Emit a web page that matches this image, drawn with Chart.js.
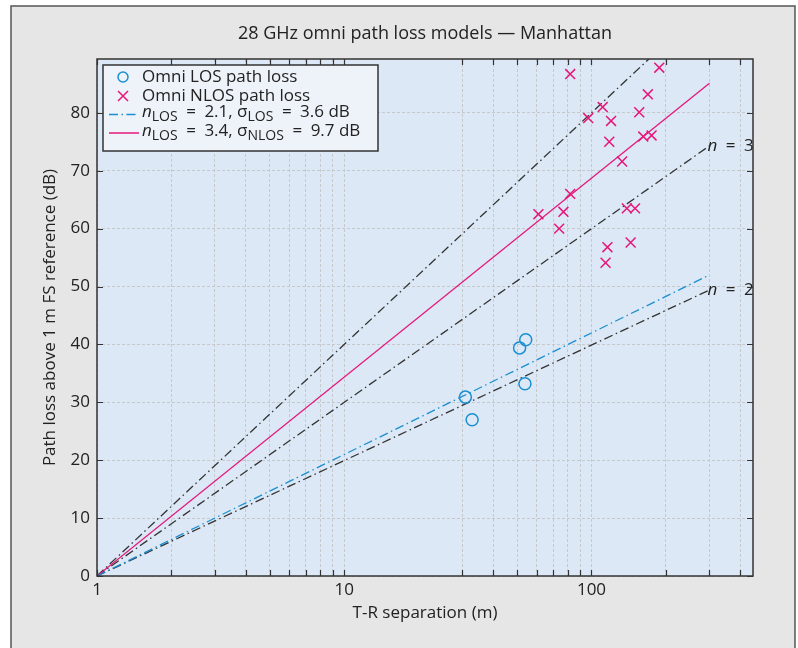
<!DOCTYPE html>
<html>
<head>
<meta charset="utf-8">
<script src="https://cdn.jsdelivr.net/npm/chart.js@4"></script>
<style>
  html, body { margin: 0; padding: 0; background: #fff; }
  #wrap { width: 798px; height: 648px; }
</style>
</head>
<body>
<div id="wrap"><canvas id="plChart" width="798" height="648"></canvas></div>
<script>
// measured points (T-R separation in m, path loss in dB)
var losDist = [54.2, 51.2, 53.8, 30.9, 32.9];
var losPL = [40.8, 39.4, 33.2, 30.9, 27.0];
var nlosDist = [82, 188, 169, 111, 156, 97, 120, 118, 162, 175, 133, 82, 61, 77, 74, 139, 150, 116, 144, 114];
var nlosPL = [86.7, 87.8, 83.2, 81.0, 80.1, 79.1, 78.6, 75.0, 75.9, 76.1, 71.6, 66.0, 62.5, 62.9, 60.0, 63.5, 63.5, 56.8, 57.6, 54.1];

// model lines, start and end
var lineDist = [1, 300];
var fitLos = [0, 52.0];
var fitNlos = [0, 85.1];
var refN2 = [0, 49.4];
var refN3 = [0, 74.3];
var refN4 = [0, 99.1];

// axis ticks
var xGrid = [1, 2, 3, 4, 5, 6, 7, 8, 9, 10, 30, 40, 50, 60, 70, 80, 90, 100, 200, 300, 400];
var xLabels = [1, 10, 100];
var yTicks = [0, 10, 20, 30, 40, 50, 60, 70, 80];

var FONT = "'Open Sans', 'DejaVu Sans', sans-serif";
var FS = 17;
var BLUE = "#1a8fd2";
var PINK = "#e5177b";
var DARK = "#333";
var dashDot = [9, 3.5, 1.5, 3.5];
var EQ = "\u2002=\u2002";

function pts(xs, ys) {
  return xs.map(function (x, i) { return { x: x, y: ys[i] }; });
}

function lineSet(label, ys, color, dash) {
  return {
    label: label,
    data: pts(lineDist, ys),
    showLine: true,
    borderColor: color,
    borderWidth: 1.3,
    borderDash: dash,
    pointRadius: 0,
    fill: false,
  };
}

function sub(ctx, x, y, parts) {
  // parts: [text, kind] kind: 'i' italic, 's' subscript, '' normal
  parts.forEach(function (p) {
    if (p[1] === "s") {
      ctx.font = "14px " + FONT;
      ctx.fillText(p[0], x, y + 5);
    } else if (p[1] === "i") {
      ctx.font = "italic " + FS + "px " + FONT;
      ctx.fillText(p[0], x, y);
    } else {
      ctx.font = FS + "px " + FONT;
      ctx.fillText(p[0], x, y);
    }
    x += ctx.measureText(p[0]).width;
  });
}

var decor = {
  id: "decor",
  beforeDraw: function (chart) {
    var ctx = chart.ctx, a = chart.chartArea;
    ctx.save();
    ctx.fillStyle = "#fff";
    ctx.fillRect(0, 0, chart.width, chart.height);
    ctx.fillStyle = "#e6e6e7";
    ctx.strokeStyle = "#555";
    ctx.lineWidth = 1.5;
    ctx.fillRect(11, 6, 784, 660);
    ctx.strokeRect(11, 6, 784, 660);
    ctx.fillStyle = "#dce8f5";
    ctx.fillRect(a.left, a.top, a.right - a.left, a.bottom - a.top);
    ctx.fillStyle = "#222";
    ctx.font = "18px " + FONT;
    ctx.textAlign = "center";
    ctx.textBaseline = "middle";
    ctx.fillText("28 GHz omni path loss models \u2014 Manhattan", (a.left + a.right) / 2, 34);
    ctx.restore();
  },
  afterDraw: function (chart) {
    var ctx = chart.ctx, a = chart.chartArea;
    var xs = chart.scales.x, ys = chart.scales.y;
    ctx.save();

    // n = 2 / n = 3 labels at the reference line ends
    ctx.beginPath();
    ctx.rect(a.left, a.top, a.right - a.left, a.bottom - a.top);
    ctx.clip();
    ctx.fillStyle = "#222";
    ctx.textBaseline = "middle";
    [[refN3, "3"], [refN2, "2"]].forEach(function (r) {
      var px = xs.getPixelForValue(lineDist[1]) - 2;
      var py = ys.getPixelForValue(r[0][1]);
      sub(ctx, px, py, [["n", "i"], [EQ + r[1], ""]]);
    });
    ctx.restore();

    ctx.save();
    // box + inward ticks
    ctx.strokeStyle = DARK;
    ctx.lineWidth = 1.5;
    ctx.strokeRect(a.left, a.top, a.right - a.left, a.bottom - a.top);
    ctx.lineWidth = 1.2;
    ctx.beginPath();
    xGrid.forEach(function (v) {
      var px = Math.round(xs.getPixelForValue(v)) + 0.5;
      ctx.moveTo(px, a.bottom); ctx.lineTo(px, a.bottom - 6);
      ctx.moveTo(px, a.top); ctx.lineTo(px, a.top + 6);
    });
    yTicks.forEach(function (v) {
      var py = Math.round(ys.getPixelForValue(v)) + 0.5;
      ctx.moveTo(a.left, py); ctx.lineTo(a.left + 6, py);
      ctx.moveTo(a.right, py); ctx.lineTo(a.right - 6, py);
    });
    ctx.stroke();

    // legend
    var lx = 103, ly = 65, lw = 275, lh = 86;
    ctx.fillStyle = "#eef3fa";
    ctx.fillRect(lx, ly, lw, lh);
    ctx.strokeStyle = DARK;
    ctx.lineWidth = 1.5;
    ctx.strokeRect(lx, ly, lw, lh);
    var rows = [77, 96, 114.5, 133];
    var tx = 142;
    ctx.lineWidth = 1.5;
    ctx.strokeStyle = BLUE;
    ctx.beginPath();
    ctx.arc(123, rows[0], 5, 0, Math.PI * 2);
    ctx.stroke();
    ctx.strokeStyle = PINK;
    ctx.beginPath();
    ctx.moveTo(118, rows[1] - 5); ctx.lineTo(128, rows[1] + 5);
    ctx.moveTo(128, rows[1] - 5); ctx.lineTo(118, rows[1] + 5);
    ctx.stroke();
    ctx.lineWidth = 1.5;
    ctx.strokeStyle = BLUE;
    ctx.setLineDash(dashDot);
    ctx.beginPath();
    ctx.moveTo(109, rows[2]); ctx.lineTo(139, rows[2]);
    ctx.stroke();
    ctx.setLineDash([]);
    ctx.strokeStyle = PINK;
    ctx.beginPath();
    ctx.moveTo(109, rows[3]); ctx.lineTo(139, rows[3]);
    ctx.stroke();

    ctx.fillStyle = "#222";
    ctx.textAlign = "left";
    ctx.textBaseline = "middle";
    ctx.font = FS + "px " + FONT;
    ctx.fillText("Omni LOS path loss", tx, rows[0]);
    ctx.fillText("Omni NLOS path loss", tx, rows[1]);
    sub(ctx, tx, rows[2] - 2, [["n", "i"], ["LOS", "s"], [EQ + "2.1, \u03c3", ""], ["LOS", "s"], [EQ + "3.6 dB", ""]]);
    sub(ctx, tx, rows[3] - 2, [["n", "i"], ["LOS", "s"], [EQ + "3.4, \u03c3", ""], ["NLOS", "s"], [EQ + "9.7 dB", ""]]);
    ctx.restore();
  },
};

var ctx = document.getElementById("plChart").getContext("2d");
var myChart = new Chart(ctx, {
  type: "scatter",
  data: {
    datasets: [
      {
        label: "Omni LOS path loss",
        data: pts(losDist, losPL),
        pointStyle: "circle",
        pointRadius: 6,
        pointBorderWidth: 1.5,
        borderColor: BLUE,
        backgroundColor: "rgba(0,0,0,0)",
      },
      {
        label: "Omni NLOS path loss",
        data: pts(nlosDist, nlosPL),
        pointStyle: "crossRot",
        pointRadius: 7,
        pointBorderWidth: 1.5,
        borderColor: PINK,
        backgroundColor: PINK,
      },
      lineSet("LOS fit", fitLos, BLUE, dashDot),
      lineSet("NLOS fit", fitNlos, PINK, []),
      lineSet("n = 2", refN2, DARK, dashDot),
      lineSet("n = 3", refN3, DARK, dashDot),
      lineSet("n = 4", refN4, DARK, dashDot),
    ],
  },
  options: {
    responsive: false,
    animation: false,
    layout: { padding: { left: 0, right: 45, top: 59, bottom: 0 } },
    plugins: {
      legend: { display: false },
      tooltip: { enabled: false },
    },
    scales: {
      x: {
        type: "logarithmic",
        min: 1,
        max: 450,
        afterBuildTicks: function (scale) {
          scale.ticks = xGrid.map(function (v) { return { value: v }; });
        },
        afterFit: function (scale) { scale.height = 72; },
        ticks: {
          autoSkip: false,
          maxRotation: 0,
          padding: 4,
          color: "#222",
          font: { family: FONT, size: FS },
          callback: function (v) { return xLabels.indexOf(v) >= 0 ? String(v) : ""; },
        },
        grid: { color: "#c6c9cc", drawTicks: false, lineWidth: 1 },
        border: { display: false, dash: [3, 2] },
        title: {
          display: true,
          text: "T-R separation (m)",
          color: "#222",
          font: { family: FONT, size: FS },
          padding: { top: 0, bottom: 25 },
        },
      },
      y: {
        min: 0,
        max: 89.3,
        afterBuildTicks: function (scale) {
          scale.ticks = yTicks.map(function (v) { return { value: v }; });
        },
        afterFit: function (scale) { scale.width = 97; },
        ticks: {
          padding: 7,
          color: "#222",
          font: { family: FONT, size: FS },
        },
        grid: { color: "#c6c9cc", drawTicks: false, lineWidth: 1 },
        border: { display: false, dash: [3, 2] },
        title: {
          display: true,
          text: "Path loss above 1 m FS reference (dB)",
          color: "#222",
          font: { family: FONT, size: FS },
          padding: { top: 40, bottom: 0 },
        },
      },
    },
  },
  plugins: [decor],
});
</script>
</body>
</html>
